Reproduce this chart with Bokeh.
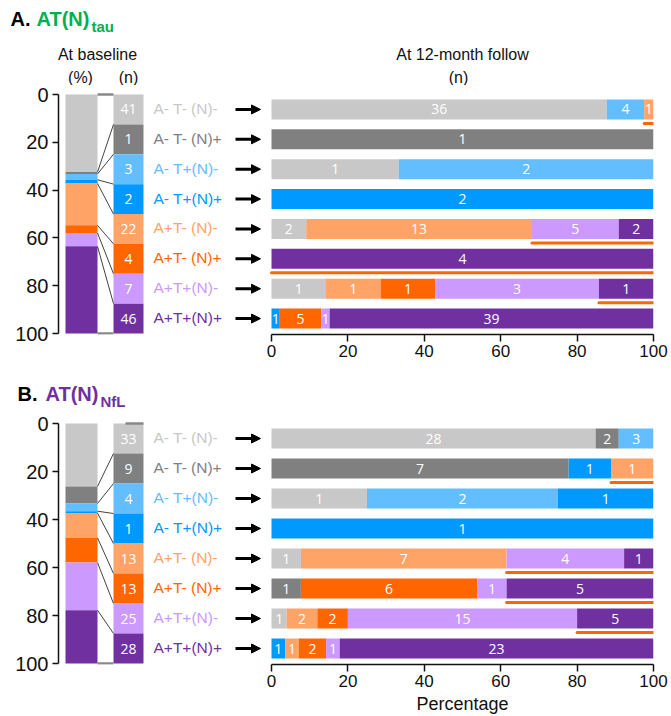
from bokeh.plotting import figure
from bokeh.models import (Range1d, LinearAxis, FixedTicker, ColumnDataSource,
                          Arrow, NormalHead)
from bokeh.layouts import column
from bokeh.embed import file_html
from bokeh.resources import INLINE
from bokeh.core.properties import value

# ---------------- data ----------------
categories = ["A- T- (N)-", "A- T- (N)+", "A- T+(N)-", "A- T+(N)+",
              "A+T- (N)-", "A+T- (N)+", "A+T+(N)-", "A+T+(N)+"]
colors = ["#C8C8C8", "#808080", "#63BEFF", "#0099FF",
          "#FFA366", "#FF6600", "#CC99FF", "#7030A0"]
tick_values = [0, 20, 40, 60, 80, 100]

# Panel A: AT(N)tau
baseline_pct_A = [32.5, 0.8, 2.4, 1.6, 17.5, 3.2, 5.6, 36.5]
baseline_n_A = [41, 1, 3, 2, 22, 4, 7, 46]
followup_A = [
    [36, 0, 4, 0, 1, 0, 0, 0],
    [0, 1, 0, 0, 0, 0, 0, 0],
    [1, 0, 2, 0, 0, 0, 0, 0],
    [0, 0, 0, 2, 0, 0, 0, 0],
    [2, 0, 0, 0, 13, 0, 5, 2],
    [0, 0, 0, 0, 0, 0, 0, 4],
    [1, 0, 0, 0, 1, 1, 3, 1],
    [0, 0, 0, 1, 0, 5, 1, 39],
]
progression_from_A = [4, None, None, None, 6, 7, 7, None]

# Panel B: AT(N)NfL
baseline_pct_B = [26.2, 7.1, 3.2, 0.8, 10.3, 10.3, 19.8, 22.2]
baseline_n_B = [33, 9, 4, 1, 13, 13, 25, 28]
followup_B = [
    [28, 2, 3, 0, 0, 0, 0, 0],
    [0, 7, 0, 1, 1, 0, 0, 0],
    [1, 0, 2, 1, 0, 0, 0, 0],
    [0, 0, 0, 1, 0, 0, 0, 0],
    [1, 0, 0, 0, 7, 0, 4, 1],
    [0, 1, 0, 0, 0, 6, 1, 5],
    [1, 0, 0, 0, 2, 2, 15, 5],
    [0, 0, 0, 1, 1, 2, 1, 23],
]
progression_from_B = [None, 4, None, None, 6, 7, 7, None]

# ---------------- layout (page pixels) ----------------
FIG_W = 671
FRAME_L = 58
FRAME_R = 653
PCT0 = 271
PCT_BAR = (65, 97)
N_BAR = (113, 143)
LABEL_X = 153
ARROW_X = (235, 260)
BAR_PX = 20
UNDER_PX = 14

SANS = "Liberation Sans"
NUM = "Open Sans"
INK = "#111111"


def text_strip(top, height, items):
    """A full-width strip (no axes) holding title / header texts, in page px."""
    p = figure(width=FIG_W, height=height, title=None,
               x_range=Range1d(0, FIG_W), y_range=Range1d(top + height, top),
               x_axis_location=None, y_axis_location=None,
               toolbar_location=None, output_backend="svg",
               min_border=0, outline_line_color=None, frame_align=False,
               background_fill_color="white", border_fill_color="white")
    p.grid.grid_line_color = None
    for (tx, ty, tt, size, style, color, align) in items:
        p.text(x=[tx], y=[ty], text=[tt], text_font=value(SANS),
               text_font_size=size, text_font_style=style, text_color=color,
               text_align=align, text_baseline="middle")
    return p


def build_panel(base_pct, base_n, follow, prog_from,
                fig_top, frame_bottom, fig_height, y0_px, y100_px, top_cap):
    scale = (y100_px - y0_px) / 100.0

    def yv(py):
        return (py - y0_px) / scale

    pct_start = -(PCT0 - FRAME_L) / (FRAME_R - PCT0) * 100.0
    p = figure(width=FIG_W, height=fig_height, title=None,
               x_range=Range1d(FRAME_L, FRAME_R),
               y_range=Range1d(yv(frame_bottom), yv(fig_top)),
               x_axis_location=None, y_axis_location="left",
               toolbar_location=None, output_backend="svg",
               min_border_left=FRAME_L,
               min_border_right=FIG_W - FRAME_R,
               min_border_top=0,
               min_border_bottom=fig_height - (frame_bottom - fig_top),
               outline_line_color=None, frame_align=False,
               background_fill_color="white", border_fill_color="white")
    p.extra_x_ranges = {"pct": Range1d(pct_start, 100)}
    p.grid.grid_line_color = None

    # left y axis
    ya = p.yaxis[0]
    ya.ticker = FixedTicker(ticks=tick_values)
    ya.bounds = (0, 100)
    ya.major_label_text_font = SANS
    ya.major_label_text_font_size = "20px"
    ya.major_label_text_color = INK
    ya.axis_line_width = 1.5
    ya.axis_line_color = INK
    ya.major_tick_line_width = 1.5
    ya.major_tick_line_color = INK
    ya.major_tick_out = 6
    ya.major_tick_in = 0
    ya.minor_tick_line_color = None
    ya.major_label_standoff = 4

    # bottom percentage axis
    xa = LinearAxis(x_range_name="pct", ticker=FixedTicker(ticks=tick_values),
                    bounds=(0, 100))
    xa.major_label_text_font = SANS
    xa.major_label_text_font_size = "17px"
    xa.major_label_text_color = INK
    xa.axis_line_width = 1.5
    xa.axis_line_color = INK
    xa.major_tick_line_width = 1.5
    xa.major_tick_line_color = INK
    xa.major_tick_out = 7
    xa.major_tick_in = 0
    xa.minor_tick_line_color = None
    xa.major_label_standoff = 3
    p.add_layout(xa, "below")

    ncat = len(categories)
    row_h = 100.0 / ncat
    rows_y = [(i + 0.5) * row_h for i in range(ncat)]

    # baseline percentage bar
    tot = sum(base_pct)
    cum = [0.0]
    for v in base_pct:
        cum.append(cum[-1] + v * 100.0 / tot)
    p.quad(left=PCT_BAR[0], right=PCT_BAR[1], top=cum[:-1], bottom=cum[1:],
           fill_color=colors, line_color=None)

    # baseline n bar
    p.quad(left=N_BAR[0], right=N_BAR[1],
           top=[i * row_h for i in range(ncat)],
           bottom=[(i + 1) * row_h for i in range(ncat)],
           fill_color=colors, line_color=None)
    p.text(x=[(N_BAR[0] + N_BAR[1]) / 2] * ncat, y=rows_y,
           text=[str(n) for n in base_n], text_align="center",
           text_baseline="middle", text_color="white",
           text_font=value(NUM), text_font_size="14px")

    # connectors
    p.segment(x0=[PCT_BAR[1]] * (ncat - 1), x1=[N_BAR[0]] * (ncat - 1),
              y0=cum[1:-1], y1=[(i + 1) * row_h for i in range(ncat - 1)],
              line_color="#444444", line_width=1)
    p.segment(x0=[top_cap[0], PCT_BAR[1]], x1=[top_cap[1], N_BAR[0]],
              y0=[cum[0], cum[-1]], y1=[0, 100],
              line_color="#888888", line_width=2.5)

    # category labels
    p.text(x=[LABEL_X] * ncat, y=[y - 0.4 for y in rows_y], text=categories,
           text_color=colors, text_align="left", text_baseline="middle",
           text_font=value(SANS), text_font_size="15.5px")

    # arrows
    asrc = ColumnDataSource(dict(x0=[ARROW_X[0]] * ncat, x1=[ARROW_X[1]] * ncat,
                                 y=rows_y))
    p.add_layout(Arrow(end=NormalHead(size=9, fill_color="black",
                                      line_color="black", line_width=1),
                       x_start="x0", y_start="y", x_end="x1", y_end="y",
                       source=asrc, line_width=3, line_color="black"))

    # follow-up stacked bars
    L, R, Y, C, TX, TT = [], [], [], [], [], []
    UL, UY = [], []
    for i, row in enumerate(follow):
        total = float(sum(row))
        acc = 0
        for j, c in enumerate(row):
            if c == 0:
                continue
            left = acc / total * 100
            right = (acc + c) / total * 100
            L.append(left); R.append(right); Y.append(rows_y[i]); C.append(colors[j])
            TX.append((left + right) / 2); TT.append(str(c))
            acc += c
        k = prog_from[i]
        if k is not None:
            UL.append(sum(row[:k]) / total * 100)
            UY.append(rows_y[i] + UNDER_PX / scale)
    p.hbar(y=Y, left=L, right=R, height=BAR_PX / scale, fill_color=C,
           line_color=None, x_range_name="pct")
    p.text(x=TX, y=Y, text=TT, text_align="center", text_baseline="middle",
           text_color="white", text_font=value(NUM), text_font_size="14px",
           x_range_name="pct")
    p.segment(x0=UL, x1=[100] * len(UL), y0=UY, y1=UY, line_color="#FF6600",
              line_width=3, line_cap="round", x_range_name="pct")
    return p


GREEN = "#00B050"
PURPLE = "#7030A0"

headA = text_strip(0, 85, [
    (10, 18, "A.", "20px", "bold", "black", "left"),
    (36, 18, "AT(N)", "20px", "bold", GREEN, "left"),
    (91, 25.5, "tau", "15px", "bold", GREEN, "left"),
    (97, 54, "At baseline", "16px", "normal", INK, "center"),
    (80, 76.5, "(%)", "16px", "normal", INK, "center"),
    (128, 76.5, "(n)", "16px", "normal", INK, "center"),
    (462, 54, "At 12-month follow", "16px", "normal", INK, "center"),
    (458, 76.5, "(n)", "16px", "normal", INK, "center"),
])
mainA = build_panel(baseline_pct_A, baseline_n_A, followup_A, progression_from_A,
                    fig_top=85, frame_bottom=334, fig_height=279,
                    y0_px=94, y100_px=333, top_cap=(97, 113))
headB = text_strip(364, 50, [
    (17, 393, "B.", "20px", "bold", "black", "left"),
    (45, 393, "AT(N)", "20px", "bold", PURPLE, "left"),
    (100, 400.5, "NfL", "15px", "bold", PURPLE, "left"),
])
mainB = build_panel(baseline_pct_B, baseline_n_B, followup_B, progression_from_B,
                    fig_top=414, frame_bottom=664, fig_height=280,
                    y0_px=423, y100_px=663, top_cap=(125, 143))
footB = text_strip(694, 22, [
    (462, 703.5, "Percentage", "18px", "normal", INK, "center"),
])

layout = column(headA, mainA, headB, mainB, footB, spacing=0)
open("out.html", "w").write(file_html(layout, INLINE))
